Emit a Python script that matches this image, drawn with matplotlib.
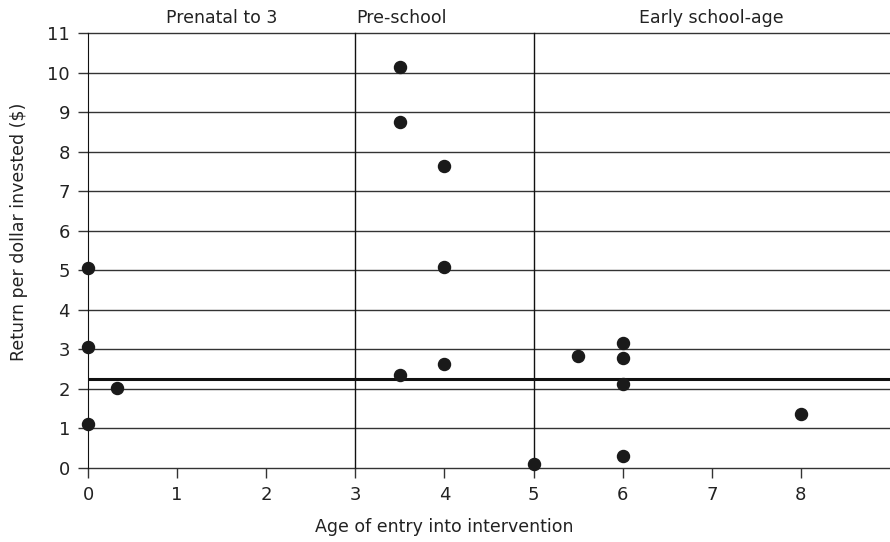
import matplotlib.pyplot as plt

# ── data ──────────────────────────────────────────
age = [0, 0, 0, 0.33, 3.5, 3.5, 3.5, 4, 4, 4, 5, 5.5, 6, 6, 6, 6, 8]
ret = [5.06, 3.06, 1.10, 2.03, 10.14, 8.75, 2.35, 7.64, 5.09, 2.62, 0.09, 2.84, 3.16, 2.79, 2.11, 0.30, 1.37]
avg_return = 2.24
boundaries = [3, 5]
sections = ['Prenatal to 3', 'Pre-school', 'Early school-age']
section_centers = [1.5, 3.52, 7.0]

plt.rcParams['font.family'] = 'DejaVu Sans'
fig = plt.figure(figsize=(8.9, 5.42), dpi=100)
ax = fig.add_axes([0.0989, 0.137, 0.9011, 0.8016])

for y in range(0, 12):
    ax.axhline(y, color='#333333', lw=1.0, zorder=1, clip_on=False)
for b in boundaries:
    ax.axvline(b, color='#111111', lw=1.0, zorder=1, clip_on=False)
ax.axhline(avg_return, color='#111111', lw=2.2, zorder=2)

ax.scatter(age, ret, s=75, color='#1a1a1a', zorder=3, clip_on=False)

ax.set_xlim(0, 9)
ax.set_ylim(0, 11)
ax.set_xticks(range(0, 9))
ax.set_yticks(range(0, 12))
for s in ['top', 'right', 'bottom']:
    ax.spines[s].set_visible(False)
ax.spines['left'].set_color('#111111')
ax.tick_params(direction='out', length=7, width=1, colors='#333333', labelsize=13, pad=6, labelcolor='#222222')

for name, c in zip(sections, section_centers):
    ax.text(c, 11.15, name, ha='center', va='bottom', fontsize=12.5, color='#222222')

ax.set_xlabel('Age of entry into intervention', fontsize=12.5, color='#222222')
ax.xaxis.set_label_coords(4 / 9, -0.115)
ax.set_ylabel('Return per dollar invested ($)', fontsize=12.5, color='#222222')
ax.yaxis.set_label_coords(-0.075, 0.543)

plt.savefig('out.png', dpi=100)
